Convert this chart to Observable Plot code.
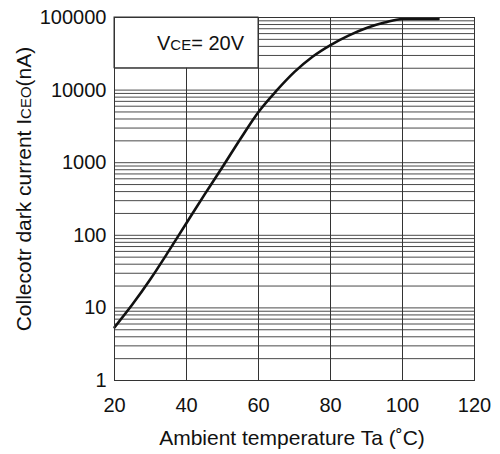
<!DOCTYPE html>
<html>
<head>
<meta charset="utf-8">
<script src="https://cdn.jsdelivr.net/npm/d3@7"></script>
<script src="https://cdn.jsdelivr.net/npm/@observablehq/plot@0.6"></script>
<style>
  html, body { margin: 0; padding: 0; background: #fff; }
</style>
</head>
<body>
<div id="chart"></div>
<script>
// Data
const temperature = [20, 25, 30, 35, 40, 45, 50, 55, 60, 65, 70, 75, 80, 85, 90, 95, 100, 110];
const darkCurrent = [5.4, 11.2, 25, 60, 148, 363, 871, 2140, 5000, 9800, 17800, 28800, 41700, 56200, 71600, 85100, 95500, 95500];

const xTicks = [20, 40, 60, 80, 100, 120];
const yTicks = [1, 10, 100, 1000, 10000, 100000];
const xGrid = [40, 60, 80, 100];
const decades = [1, 10, 100, 1000, 10000];
const mantissas = [1, 2, 3, 4, 5, 6, 7, 8, 9];
const legendBox = [{t1: 20, t2: 60, i1: 20000, i2: 100000}];

const yGrid = decades.flatMap(d => mantissas.map(m => m * d)).concat([100000]);
const data = temperature.map((t, i) => ({t, i: darkCurrent[i]}));

const font = "'Liberation Sans', Arial, sans-serif";

const plot = Plot.plot({
  width: 500,
  height: 454,
  marginLeft: 114,
  marginRight: 26,
  marginTop: 17,
  marginBottom: 74,
  style: {fontFamily: font, fontSize: "20px", color: "#111", background: "#fff", overflow: "visible"},
  x: {domain: [20, 120], ticks: xTicks, tickSize: 0, tickPadding: 17, label: null},
  y: {type: "log", domain: [1, 100000], ticks: yTicks, tickFormat: d => String(d), tickSize: 0, tickPadding: 8, label: null},
  marks: [
    Plot.ruleY(yGrid, {stroke: "#4a4a4a", strokeWidth: 1}),
    Plot.ruleX(xGrid, {stroke: "#333", strokeWidth: 1}),
    Plot.rect(legendBox, {x1: "t1", x2: "t2", y1: "i1", y2: "i2", fill: "#fff", stroke: "#333", strokeWidth: 1}),
    Plot.line(data, {x: "t", y: "i", stroke: "#111", strokeWidth: 2.6, curve: "monotone-x"}),
    Plot.frame({stroke: "#333", strokeWidth: 1})
  ]
});

const svg = d3.select(plot);
// Legend text inside box
const leg = svg.append("text")
  .attr("x", 157).attr("y", 50)
  .attr("text-anchor", "start")
  .attr("font-family", font).attr("font-size", 20).attr("fill", "#111");
leg.append("tspan").text("V");
leg.append("tspan").attr("font-size", 15).text("CE");
leg.append("tspan").text("= 20V");

// X axis title
svg.append("text")
  .attr("x", 292).attr("y", 445)
  .attr("text-anchor", "middle")
  .attr("font-family", font).attr("font-size", 21).attr("fill", "#111")
  .text("Ambient temperature Ta (˚C)");

// Y axis title
const yl = svg.append("text")
  .attr("transform", "translate(31,189) rotate(-90)")
  .attr("text-anchor", "middle")
  .attr("font-family", font).attr("font-size", 21).attr("fill", "#111");
yl.append("tspan").text("Collecotr dark current I");
yl.append("tspan").attr("font-size", 15).text("CEO");
yl.append("tspan").text("(nA)");

document.getElementById("chart").appendChild(plot);
</script>
</body>
</html>
